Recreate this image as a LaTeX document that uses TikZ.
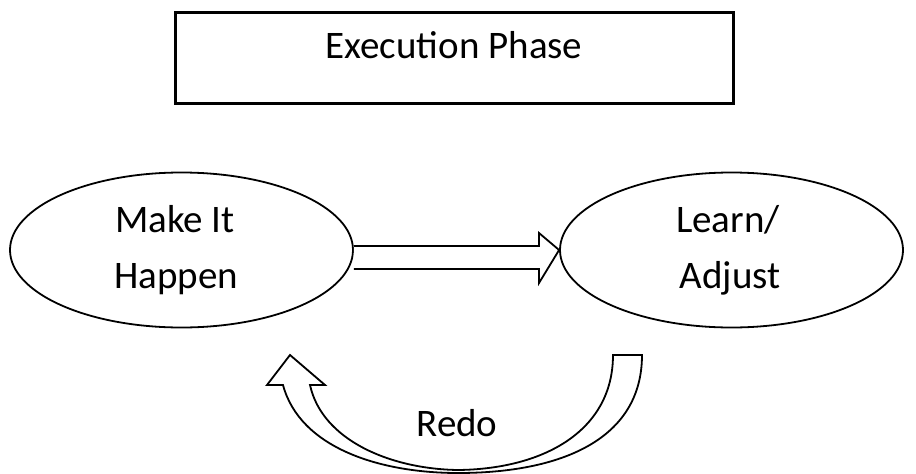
\documentclass[tikz,border=0pt]{standalone}
\usepackage{fontspec}
\setmainfont{Carlito}
\usetikzlibrary{shapes.geometric}
\begin{document}
\begin{tikzpicture}[x=1pt,y=-1pt,
  lbl/.style={font=\fontsize{39}{39}\selectfont, anchor=base, inner sep=0pt},
  oval/.style={draw, line width=1.8pt, ellipse, minimum width=343pt, minimum height=155pt, inner sep=0pt},
  blockarrow/.style={draw, line width=1.8pt, line join=miter, fill=white}]
\useasboundingbox (0,0) rectangle (916,474);
\node[draw, line width=3pt, minimum width=558pt, minimum height=91pt, inner sep=0pt] (phase) at (454,57.5) {};
\node[lbl] (phaset) at (454,58) {Execution Phase};
\node[oval] (L) at (181.5,250) {};
\node[oval] (R) at (731.5,250) {};
\node[lbl] (l1) at (175,232) {Make It};
\node[lbl] (l2) at (176,288) {Happen};
\node[lbl] (r1) at (728,232) {Learn/};
\node[lbl] (r2) at (730,288) {Adjust};
\node[lbl] (redo) at (457,436) {Redo};
% straight block arrow
\draw[blockarrow] (L.east |- 0,246) -- (539,246) -- (539,233) -- (R.west) -- (539,283) -- (539,269) -- (L.east |- 0,269);
% curved U-turn arrow
\draw[blockarrow] (642,355) -- (613,355)
  .. controls (613,430) and (545,469) .. (458,470)
  .. controls (390,469) and (322,440) .. (310,385)
  -- (325,385) -- (290,355) -- (267,385) -- (283,385)
  .. controls (300,448) and (380,473) .. (458,473)
  .. controls (560,473) and (642,440) .. cycle;
\end{tikzpicture}
\end{document}
